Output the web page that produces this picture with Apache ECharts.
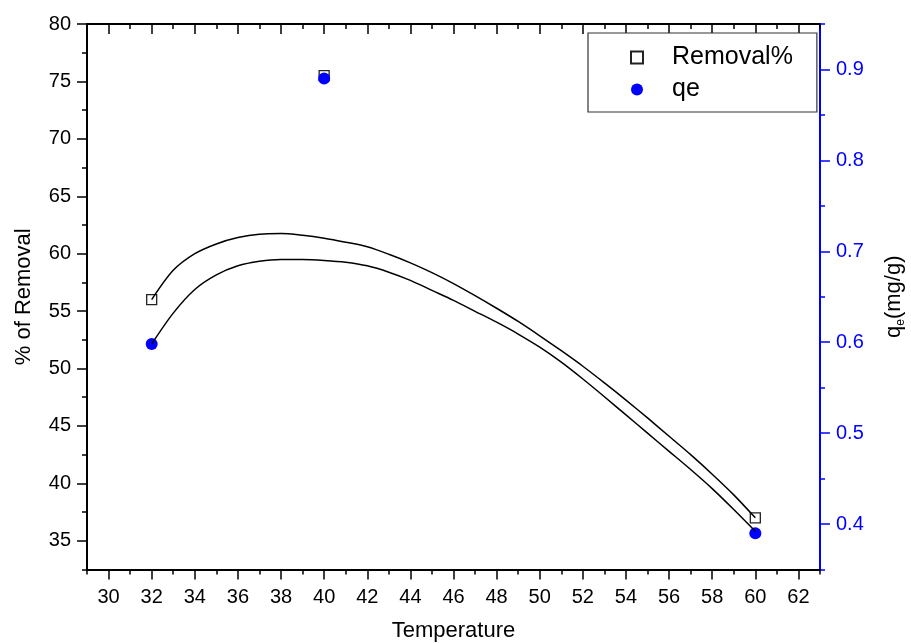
<!DOCTYPE html>
<html><head><meta charset="utf-8">
<script src="https://cdn.jsdelivr.net/npm/echarts@6/dist/echarts.min.js"></script>
<style>html,body{margin:0;padding:0;background:#fff}#c{width:911px;height:643px}</style>
</head><body><div id="c"></div>
<script>
// ---- data ----
const temperature = [32, 40, 60];
const removalPct = [56.0, 75.5, 37.0];
const qeValues = [0.598, 0.890, 0.390];

// B-spline connection curves (one reading per degree)
const curveX = [32, 33, 34, 35, 36, 37, 38, 39, 40, 41, 42, 43, 44, 45, 46, 47, 48, 49, 50, 51, 52, 53, 54, 55, 56, 57, 58, 59, 60];
const removalCurveY = [56.0, 58.55, 60.0, 60.85, 61.4, 61.7, 61.75, 61.6, 61.35, 61.0, 60.6, 59.95, 59.2, 58.35, 57.4, 56.35, 55.25, 54.1, 52.85, 51.55, 50.2, 48.75, 47.25, 45.7, 44.1, 42.5, 40.8, 39.0, 37.0];
const qeCurveY = [0.598, 0.632, 0.658, 0.674, 0.684, 0.689, 0.691, 0.691, 0.690, 0.688, 0.684, 0.677, 0.668, 0.657, 0.646, 0.634, 0.622, 0.609, 0.5945, 0.578, 0.5595, 0.540, 0.520, 0.500, 0.480, 0.460, 0.439, 0.416, 0.392];

// tick labels
const xTickLabels = ['30','32','34','36','38','40','42','44','46','48','50','52','54','56','58','60','62'];
const leftTickLabels = ['35','40','45','50','55','60','65','70','75','80'];
const rightTickLabels = ['0.4','0.5','0.6','0.7','0.8','0.9'];

// axis ranges
const xMin = 29, xMax = 63;
const leftMin = 32.5, leftMax = 80, leftStep = 2.5;
const rightMin = 0.35, rightMax = 0.95, rightStep = 0.05;

// category grids (one entry per minor tick) used to draw the major ticks + labels
const xCats = [];
for (let v = xMin; v <= xMax; v++) xCats.push(String(v));
const leftCats = [];
for (let i = 0; i <= Math.round((leftMax - leftMin) / leftStep); i++) leftCats.push(String(+(leftMin + i * leftStep).toFixed(2)));
const rightCats = [];
for (let i = 0; i <= Math.round((rightMax - rightMin) / rightStep); i++) rightCats.push(String(+(rightMin + i * rightStep).toFixed(2)));

const FONT = 'Liberation Sans, Arial, sans-serif';
const BLACK = '#000';
const BLUE = '#0000ff';

const isX = (i, v) => xTickLabels.indexOf(v) >= 0;
const isL = (i, v) => leftTickLabels.indexOf(v) >= 0;
const isR = (i, v) => rightTickLabels.indexOf(v) >= 0;

const chart = echarts.init(document.getElementById('c'), null, {renderer: 'canvas'});
chart.setOption({
  animation: false,
  backgroundColor: '#fff',
  grid: {left: 87, right: 91, top: 24, bottom: 73.5, containLabel: false, outerBoundsMode: 'none'},
  legend: {
    data: ['Removal%', 'qe'],
    orient: 'vertical',
    left: 588, top: 33,
    padding: [12, 24, 10, 42],
    itemGap: 7,
    itemWidth: 12, itemHeight: 12,
    borderColor: '#333', borderWidth: 1.2,
    backgroundColor: '#fff',
    textStyle: {fontFamily: FONT, fontSize: 25, color: BLACK, padding: [0, 0, 0, 24]}
  },
  xAxis: [
    {type: 'value', min: xMin, max: xMax, interval: 1, position: 'bottom',
     name: 'Temperature', nameLocation: 'middle', nameGap: 50,
     nameTextStyle: {fontFamily: FONT, fontSize: 22, color: BLACK},
     axisLine: {show: true, lineStyle: {color: BLACK, width: 2}},
     axisTick: {show: true, inside: false, length: 5, lineStyle: {color: BLACK, width: 1.5}},
     axisLabel: {show: false}, splitLine: {show: false}},
    {type: 'category', data: xCats, boundaryGap: false, position: 'bottom',
     axisLine: {show: false},
     axisTick: {show: true, inside: false, length: 10, interval: isX, lineStyle: {color: BLACK, width: 1.5}},
     axisLabel: {show: true, interval: isX, margin: 18, fontFamily: FONT, fontSize: 20, color: BLACK},
     splitLine: {show: false}},
    {type: 'value', min: xMin, max: xMax, interval: 1, position: 'top',
     axisLine: {show: true, lineStyle: {color: BLACK, width: 2}},
     axisTick: {show: true, inside: true, length: 5, lineStyle: {color: BLACK, width: 1.5}},
     axisLabel: {show: false}, splitLine: {show: false}},
    {type: 'category', data: xCats, boundaryGap: false, position: 'top',
     axisLine: {show: false},
     axisTick: {show: true, inside: true, length: 10, interval: isX, lineStyle: {color: BLACK, width: 1.5}},
     axisLabel: {show: false}, splitLine: {show: false}}
  ],
  yAxis: [
    {type: 'value', min: leftMin, max: leftMax, interval: leftStep, position: 'left',
     name: '% of Removal', nameLocation: 'middle', nameGap: 52, nameRotate: 90,
     nameTextStyle: {fontFamily: FONT, fontSize: 22, color: BLACK},
     axisLine: {show: true, lineStyle: {color: BLACK, width: 2}},
     axisTick: {show: true, inside: false, length: 5, lineStyle: {color: BLACK, width: 1.5}},
     axisLabel: {show: false}, splitLine: {show: false}},
    {type: 'category', data: leftCats, boundaryGap: false, position: 'left',
     axisLine: {show: false},
     axisTick: {show: true, inside: false, length: 10, interval: isL, lineStyle: {color: BLACK, width: 1.5}},
     axisLabel: {show: true, interval: isL, margin: 16, fontFamily: FONT, fontSize: 20, color: BLACK},
     splitLine: {show: false}},
    {type: 'value', min: rightMin, max: rightMax, interval: rightStep, position: 'right',
     axisLine: {show: true, lineStyle: {color: BLUE, width: 2}},
     axisTick: {show: true, inside: false, length: 5, lineStyle: {color: BLUE, width: 1.5}},
     axisLabel: {show: false}, splitLine: {show: false}},
    {type: 'category', data: rightCats, boundaryGap: false, position: 'right',
     name: '{q|q}{s|e}{q|(mg/g)}', nameLocation: 'middle', nameGap: 61, nameRotate: 90,
     nameTextStyle: {fontFamily: FONT, fontSize: 22, color: BLACK,
       rich: {q: {fontFamily: FONT, fontSize: 22, color: BLACK, lineHeight: 26},
              s: {fontFamily: FONT, fontSize: 12, color: BLACK, lineHeight: 12, verticalAlign: 'bottom'}}},
     axisLine: {show: false},
     axisTick: {show: true, inside: false, length: 10, interval: isR, lineStyle: {color: BLUE, width: 1.5}},
     axisLabel: {show: true, interval: isR, margin: 16, fontFamily: FONT, fontSize: 20, color: BLUE},
     splitLine: {show: false}}
  ],
  series: [
    {name: 'Removal%', type: 'scatter', xAxisIndex: 0, yAxisIndex: 0, z: 2,
     symbol: 'rect', symbolSize: 10,
     itemStyle: {color: '#fff', borderColor: '#222', borderWidth: 1.3, opacity: 1},
     data: temperature.map((t, i) => [t, removalPct[i]])},
    {name: 'qe', type: 'scatter', xAxisIndex: 0, yAxisIndex: 2, z: 3,
     symbol: 'circle', symbolSize: 12,
     itemStyle: {color: BLUE, opacity: 1},
     data: temperature.map((t, i) => [t, qeValues[i]])},
    {name: 'Removal% curve', type: 'line', xAxisIndex: 0, yAxisIndex: 0, z: 4,
     showSymbol: false, symbol: 'none', smooth: 0.3,
     lineStyle: {color: BLACK, width: 1.5},
     data: curveX.map((x, i) => [x, removalCurveY[i]])},
    {name: 'qe curve', type: 'line', xAxisIndex: 0, yAxisIndex: 2, z: 4,
     showSymbol: false, symbol: 'none', smooth: 0.3,
     lineStyle: {color: BLACK, width: 1.5},
     data: curveX.map((x, i) => [x, qeCurveY[i]])}
  ]
});
</script>
</body></html>
